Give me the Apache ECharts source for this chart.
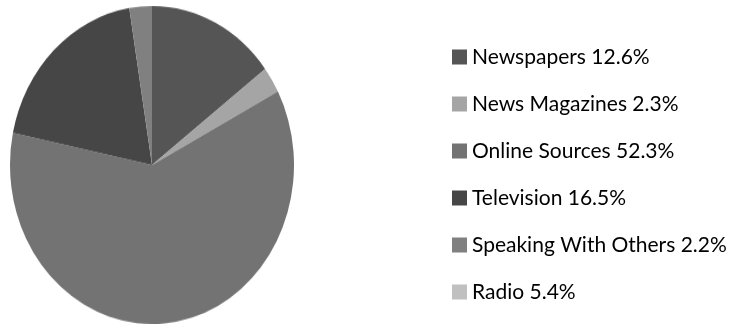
<!DOCTYPE html>
<html>
<head>
<meta charset="utf-8">
<script src="https://cdn.jsdelivr.net/npm/echarts@6/dist/echarts.min.js"></script>
<style>
  html, body { margin: 0; padding: 0; background: #fff; overflow: hidden; }
  #stage { position: relative; width: 736px; height: 324px; overflow: hidden; }
  /* the pie is drawn round and stretched vertically into an ellipse */
  #pie {
    position: absolute; left: 2px; top: 15px; width: 300px; height: 300px;
    transform-origin: 50% 50%; transform: scaleY(1.1197);
  }
  #key { position: absolute; left: 0; top: 0; width: 736px; height: 324px; }
</style>
</head>
<body>
<div id="stage">
  <div id="pie"></div>
  <div id="key"></div>
</div>
<script>
// Where people get their news (share of respondents, %)
const categories = ['Newspapers', 'News Magazines', 'Online Sources', 'Television', 'Speaking With Others', 'Radio'];
const shares = [12.6, 2.3, 52.3, 16.5, 2.2, 5.4];
// Radio is listed in the key but left out of the pie
const hiddenInPie = ['Radio'];

const palette = ['#555555', '#a5a5a5', '#737373', '#464646', '#808080', '#c0c0c0'];

const pieData = categories.map((name, i) => ({ name: name, value: shares[i] }));
const shareOf = {};
categories.forEach((name, i) => { shareOf[name] = shares[i]; });

const pieSelected = {};
hiddenInPie.forEach(n => { pieSelected[n] = false; });

const pieChart = echarts.init(document.getElementById('pie'), null, { renderer: 'canvas' });
pieChart.setOption({
  animation: false,
  color: palette,
  legend: { show: false, data: categories, selected: pieSelected },
  series: [{
    type: 'pie',
    center: ['50%', '50%'],
    radius: 142,
    startAngle: 90,
    clockwise: true,
    label: { show: false },
    labelLine: { show: false },
    emphasis: { disabled: true },
    itemStyle: { borderWidth: 0 },
    data: pieData
  }]
});

const keyChart = echarts.init(document.getElementById('key'), null, { renderer: 'canvas' });
keyChart.setOption({
  animation: false,
  color: palette,
  legend: {
    orient: 'vertical',
    left: 452,
    top: 46,
    padding: 0,
    icon: 'rect',
    itemWidth: 15,
    itemHeight: 15,
    itemGap: 25,
    data: categories,
    formatter: name => name + ' ' + shareOf[name].toFixed(1) + '%',
    textStyle: {
      fontFamily: 'Lato',
      fontSize: 21,
      lineHeight: 22,
      color: '#000',
      padding: [0, 0, 0, 0]
    }
  },
  series: [{
    type: 'pie',
    radius: [0, 0],
    silent: true,
    label: { show: false },
    labelLine: { show: false },
    data: pieData
  }]
});
</script>
</body>
</html>
